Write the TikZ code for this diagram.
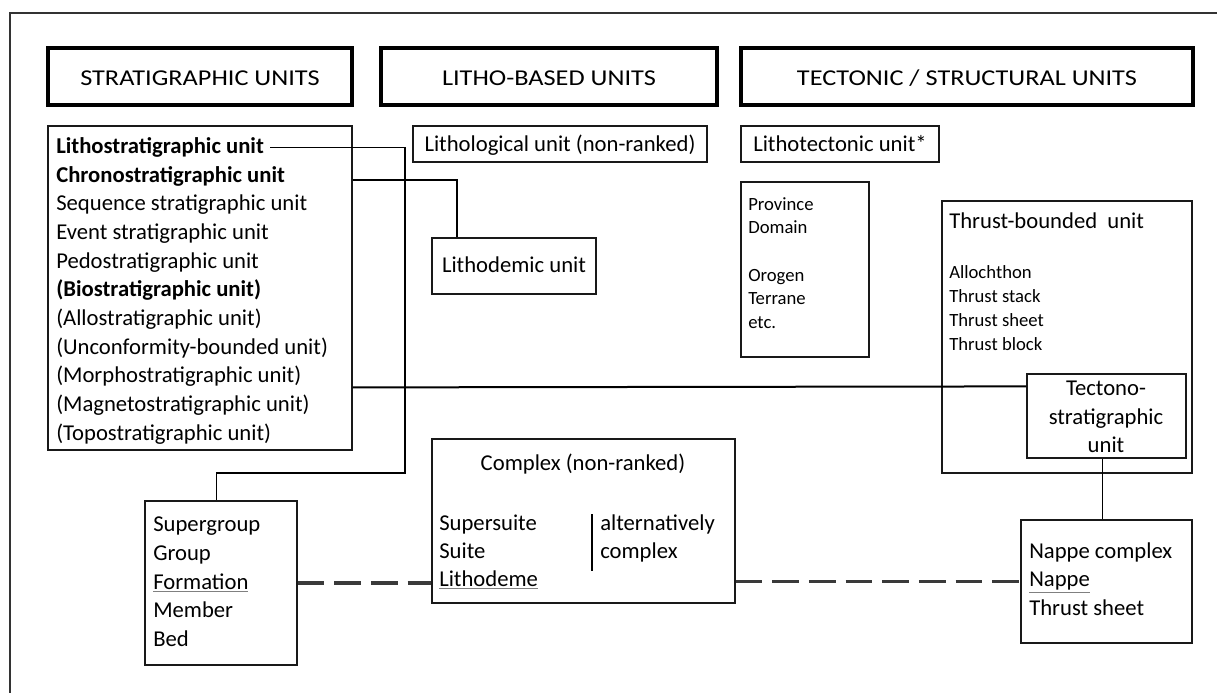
\documentclass[tikz,border=0pt]{standalone}
\usepackage{fontspec}
\setmainfont{Carlito}
\newfontfamily\hfont[FakeStretch=1.16]{Carlito}
\usetikzlibrary{fit,calc}
\newcommand\gul[1]{\leavevmode\rlap{\color{gray}\underline{\phantom{#1}}}#1}
\newcommand\fmain{\fontsize{17}{20}\selectfont}
\newcommand\fsmall{\fontsize{14}{17}\selectfont}
\newcommand\fhead{\hfont\fontsize{17}{20}\selectfont}
\definecolor{framec}{HTML}{333333}
\definecolor{dashc}{HTML}{3A3A3A}
\tikzset{
  hdr/.style={draw=black, line width=2.6pt, inner sep=0pt},
  htxt/.style={anchor=base, inner sep=0pt, font=\fhead},
  box/.style={draw=black!90, line width=0.9pt, inner sep=0pt},
  lst/.style={anchor=base west, inner sep=0pt, font=\fmain},
  sml/.style={anchor=base west, inner sep=0pt, font=\fsmall},
  ctr/.style={anchor=base, inner sep=0pt, font=\fmain},
  thinc/.style={line width=0.8pt},
  thickc/.style={line width=1.5pt},
  dashl/.style={draw=dashc, line width=2.3pt, dash pattern=on 20pt off 7.5pt},
  frame/.style={draw=framec, line width=1.4pt}
}
\begin{document}
\begin{tikzpicture}[x=0.75pt,y=-0.75pt]
\useasboundingbox (0,0) rectangle (1217,693);
\draw[frame] (1217,13) -- (10,13) -- (10,693);

% headers
\node[hdr, fit={(48,48) (352,105)}] (h1) {};
\node[htxt] (ht1) at (200,85) {STRATIGRAPHIC UNITS};
\node[hdr, fit={(381,48) (717,105)}] (h2) {};
\node[htxt] (ht2) at (549,85) {LITHO-BASED UNITS};
\node[hdr, fit={(741,48) (1193,105)}] (h3) {};
\node[htxt] (ht3) at (967,85) {TECTONIC / STRUCTURAL UNITS};

% stratigraphic list
\node[box, fit={(48,126) (352,450)}] (strat) {};
\foreach \t [count=\i from 0] in {{\textbf{Lithostratigraphic unit}},{\textbf{Chronostratigraphic unit}},{Sequence stratigraphic unit},{Event stratigraphic unit},{Pedostratigraphic unit},{\textbf{(Biostratigraphic unit)}},{(Allostratigraphic unit)},{(Unconformity-bounded unit)},{(Morphostratigraphic unit)},{(Magnetostratigraphic unit)},{(Topostratigraphic unit)}}
  \node[lst] (s\i) at (56,{153.3+28.7*\i}) {\t};

% litho-based
\node[box, fit={(413,126) (707,162)}] (lithol) {};
\node[ctr] (tlithol) at (560,151) {Lithological unit (non-ranked)};
\node[box, fit={(432,238) (596,294)}] (lithod) {};
\node[ctr] (tlithod) at (514,272.7) {Lithodemic unit};
\node[box, fit={(432,439) (735,603)}] (cplx) {};
\node[ctr] (tcplx) at (583,470.7) {Complex (non-ranked)};
\node[lst] (c1) at (439,530) {Supersuite};
\node[lst] (c2) at (439,558.3) {Suite};
\node[lst] (c3) at (439,586.7) {\gul{Lithodeme}};
\coordinate (bt) at (592,514);
\coordinate (bb) at (592,571);
\draw[thinc] (bt) -- (bb);
\node[lst] (a1) at (600,530) {alternatively};
\node[lst] (a2) at (600,558.3) {complex};

% tectonic
\node[box, fit={(741,126) (939,162)}] (litht) {};
\node[ctr] (tlitht) at (840,151.5) {Lithotectonic unit*};
\node[box, fit={(741,182) (869,357)}] (prov) {};
\node[sml] (p1) at (748,210) {Province};
\node[sml] (p2) at (748,233.5) {Domain};
\node[sml] (p3) at (748,281) {Orogen};
\node[sml] (p4) at (748,304.5) {Terrane};
\node[sml] (p5) at (748,328) {etc.};

\node[box, fit={(942,201) (1192,473)}] (thrust) {};
\node[lst] (tt) at (949,228.3) {Thrust-bounded\ \ unit};
\node[sml] (t1) at (949,278.3) {Allochthon};
\node[sml] (t2) at (949,302) {Thrust stack};
\node[sml] (t3) at (949,326) {Thrust sheet};
\node[sml] (t4) at (949,350) {Thrust block};

\node[box, fill=white, fit={(1027,374) (1186,458)}] (tecto) {};
\node[ctr] (g1) at (1106,395) {Tectono-};
\node[ctr] (g2) at (1106,424) {stratigraphic};
\node[ctr] (g3) at (1106,452) {unit};

\node[box, fit={(1021,520) (1192,643)}] (nappe) {};
\node[lst] (n1) at (1029,558.3) {Nappe complex};
\node[lst] (n2) at (1029,586.7) {\gul{Nappe}};
\node[lst] (n3) at (1029,615) {Thrust sheet};

% lithostratigraphic ranks
\node[box, fit={(145,501) (297,665)}] (sg) {};
\foreach \t [count=\i from 0] in {{Supergroup},{Group},{\gul{Formation}},{Member},{Bed}}
  \node[lst] (r\i) at (153,{531.7+28.7*\i}) {\t};

% connectors
\coordinate (lA) at ($(s0.east)+(6,0)$);
\draw[thinc] (lA) -- (lA -| 405,0) -- (405,473) -| ($(sg.north west)+(72,0)$);
\draw[thickc] ($(strat.north east)+(0,55)$) -| ($(lithod.north west)+(26,0)$);
\draw[thinc] ($(lithod.south)+(-2,0)$) -- ($(lithod.south)+(-2,0)$ |- cplx.north);
\draw[thickc] ($(strat.north east)+(0,262)$) -- ($(tecto.north west)+(0,13)$);
\draw[thinc] ($(tecto.south)+(-4,0)$) -- ($(nappe.north)+(-4,0)$);
\draw[dashl] (sg.east) -- (sg.east -| cplx.west);
\draw[dashl] (cplx.east |- nappe.west) -- (nappe.west);
\end{tikzpicture}
\end{document}
